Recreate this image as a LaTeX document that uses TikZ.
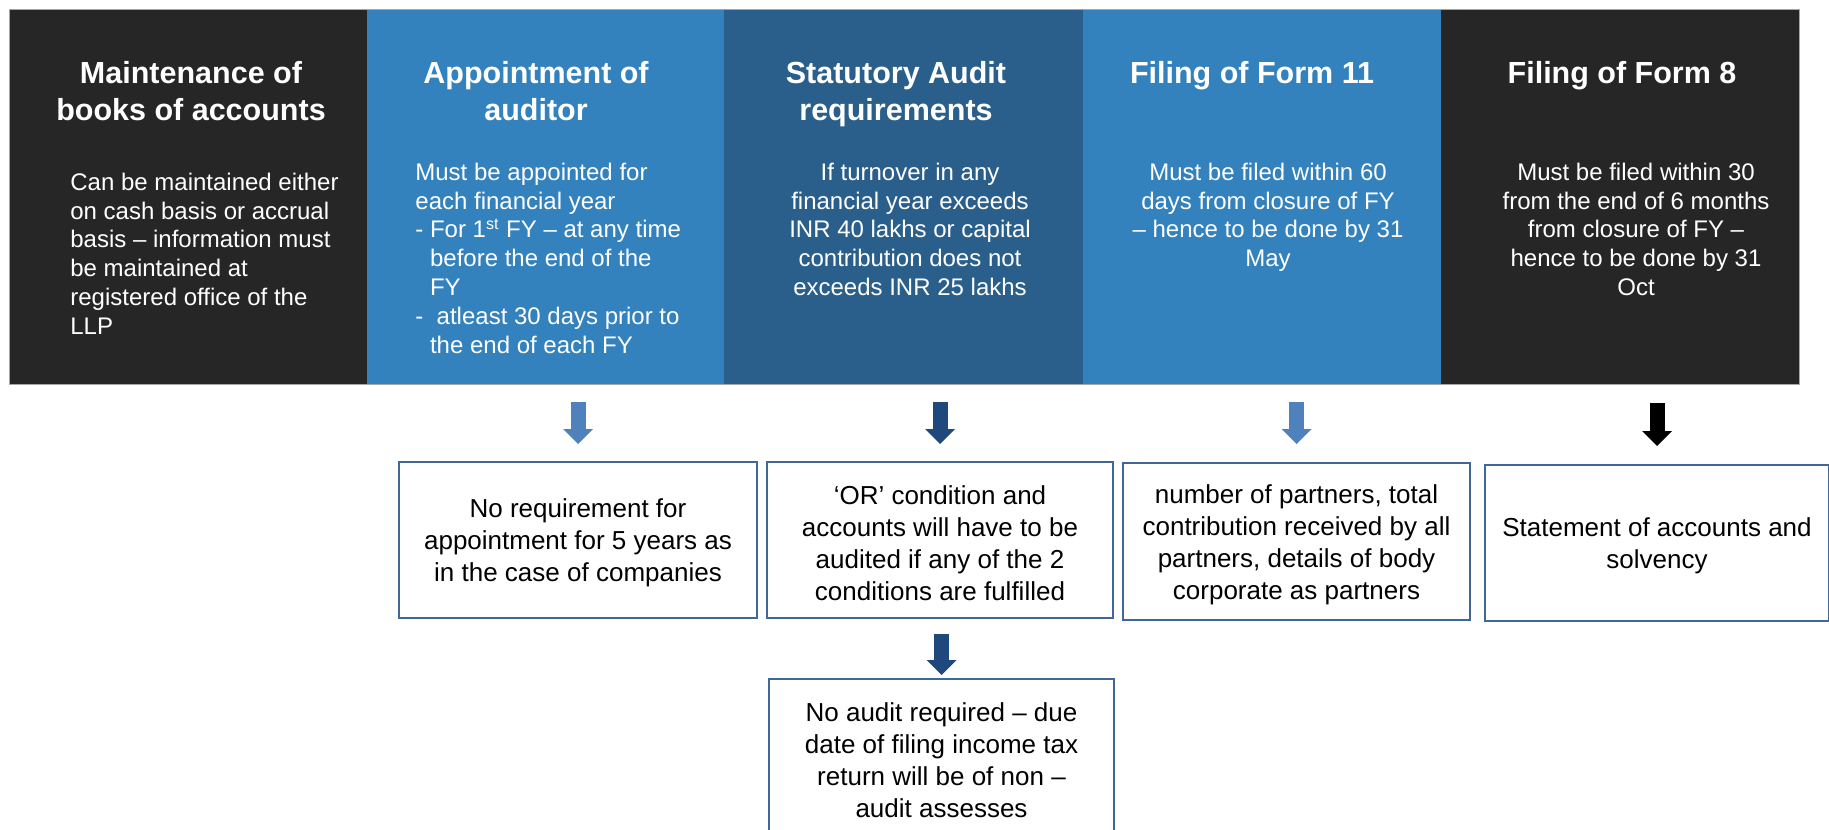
\documentclass[tikz,border=0pt]{standalone}
\usepackage{fontspec}
\setmainfont{Liberation Sans}
\usetikzlibrary{arrows.meta,calc}
\definecolor{darkcol}{HTML}{262626}
\definecolor{bluecol}{HTML}{3381BD}
\definecolor{deepcol}{HTML}{2A5F8B}
\definecolor{edgecol}{HTML}{3F6797}
\definecolor{lightarrow}{HTML}{4F81BD}
\definecolor{darkarrow}{HTML}{1F497D}
% extra room above the first line of a box text
\newcommand{\firstgap}{\rule{0pt}{12.5pt}}
\begin{document}
\begin{tikzpicture}[x=0.5pt,y=-0.5pt,
  colbox/.style={anchor=north west, inner sep=0pt, outer sep=0pt, minimum height=187.5pt, draw=none},
  ttl/.style={anchor=north, inner sep=0pt, text=white, align=center,
    font=\bfseries\fontsize{15.25pt}{18.3pt}\selectfont},
  bodytxt/.style={inner sep=0pt, text=white, font=\fontsize{12pt}{14.4pt}\selectfont},
  lowbox/.style={anchor=north west, draw=edgecol, line width=1pt, fill=white, inner sep=0pt,
    align=center, text=black, font=\fontsize{13pt}{16pt}\selectfont},
  blockarrow/.style={line width=7.5pt, -{Triangle[length=7.5pt,width=15pt,line width=0pt]}}]
\useasboundingbox (0,0) rectangle (1829,829);
\clip (0,0) rectangle (1829,829);

% top band of five columns
\node[colbox, fill=darkcol, minimum width=179pt]   (col1) at (9,9) {};
\node[colbox, fill=bluecol, minimum width=178.5pt] (col2) at (367,9) {};
\node[colbox, fill=deepcol, minimum width=179.5pt] (col3) at (724,9) {};
\node[colbox, fill=bluecol, minimum width=179pt]   (col4) at (1083,9) {};
\node[colbox, fill=darkcol, minimum width=179pt]   (col5) at (1441,9) {};
\node[anchor=north west, inner sep=0pt, minimum width=895pt, minimum height=187.5pt,
  draw=gray!70, line width=0.5pt] (band) at (9,9) {};

% column headings
\node[ttl] (t1) at (191,61)  {Maintenance of\\books of accounts};
\node[ttl] (t2) at (536,61)  {Appointment of\\auditor};
\node[ttl] (t3) at (896,61)  {Statutory Audit\\requirements};
\node[ttl] (t4) at (1252,61) {Filing of Form 11};
\node[ttl] (t5) at (1622,61) {Filing of Form 8};

% column texts
\node[bodytxt, anchor=north west, align=left] (b1) at (70,172.5)
  {Can be maintained either\\on cash basis or accrual\\basis – information must\\be maintained at\\registered office of the\\LLP};
\node[bodytxt, anchor=north west, align=left] (b2) at (415,162.5)
  {Must be appointed for\\each financial year\\- For 1\textsuperscript{st} FY – at any time\\\hphantom{-\ }before the end of the\\\hphantom{-\ }FY\\-\ \ atleast 30 days prior to\\\hphantom{-\ }the end of each FY};
\node[bodytxt, anchor=north, align=center] (b3) at (910,162.5)
  {If turnover in any\\financial year exceeds\\INR 40 lakhs or capital\\contribution does not\\exceeds INR 25 lakhs};
\node[bodytxt, anchor=north, align=center] (b4) at (1268,162.5)
  {Must be filed within 60\\days from closure of FY\\– hence to be done by 31\\May};
\node[bodytxt, anchor=north, align=center] (b5) at (1636,162.5)
  {Must be filed within 30\\from the end of 6 months\\from closure of FY –\\hence to be done by 31\\Oct};

% lower boxes
\node[lowbox, minimum width=179pt, minimum height=78pt] (boxA) at (398,461)
  {\firstgap No requirement for\\appointment for 5 years as\\in the case of companies};
\node[lowbox, minimum width=173pt, minimum height=78pt] (boxB) at (766,461)
  {\firstgap ‘OR’ condition and\\accounts will have to be\\audited if any of the 2\\conditions are fulfilled};
\node[lowbox, minimum width=172.5pt, minimum height=78pt] (boxC) at (768,678)
  {\firstgap No audit required – due\\date of filing income tax\\return will be of non –\\audit assesses};
\node[lowbox, minimum width=173.5pt, minimum height=78.5pt] (boxD) at (1122,462)
  {\firstgap number of partners, total\\contribution received by all\\partners, details of body\\corporate as partners};
\node[lowbox, minimum width=172pt, minimum height=78pt] (boxE) at (1484,464)
  {\firstgap Statement of accounts and\\solvency};

% block arrows
\draw[blockarrow, lightarrow] ($(band.south -| boxA.north)+(0,17)$) -- ($(boxA.north)+(0,-17)$);
\draw[blockarrow, darkarrow]  ($(band.south -| boxB.north)+(0,17)$) -- ($(boxB.north)+(0,-17)$);
\draw[blockarrow, darkarrow]  ($(boxB.south -| boxC.north)+(0,15)$) -- ($(boxC.north)+(0,-3)$);
\draw[blockarrow, lightarrow] ($(band.south -| boxD.north)+(0,17)$) -- ($(boxD.north)+(0,-18)$);
\draw[blockarrow, black]      ($(band.south -| boxE.north)+(0,18)$) -- ($(boxE.north)+(0,-18)$);
\end{tikzpicture}
\end{document}
